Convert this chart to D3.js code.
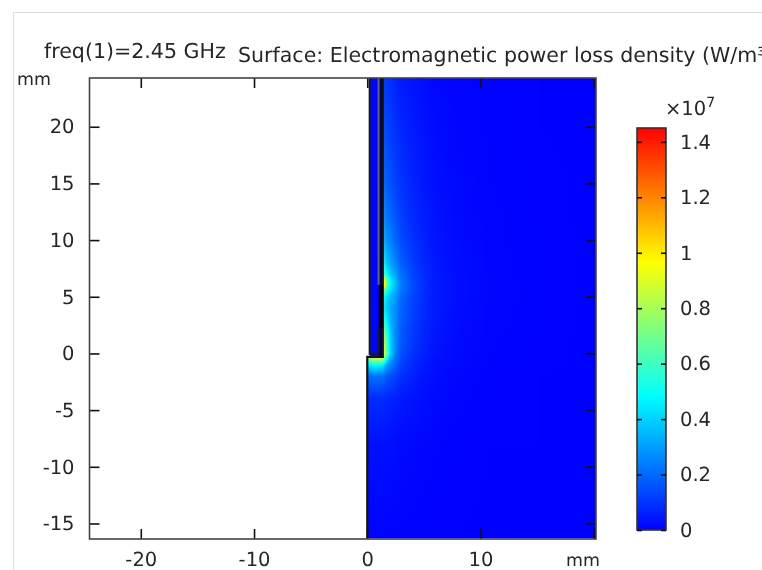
<!DOCTYPE html>
<html><head><meta charset="utf-8">
<script src="https://cdn.jsdelivr.net/npm/d3@7"></script>
<style>
html,body{margin:0;padding:0;background:#fff;overflow:hidden}
svg{display:block;filter:blur(0.5px)}
text{font-family:"DejaVu Sans",sans-serif;fill:#262626;text-rendering:geometricPrecision}
</style></head><body><div id="c"></div>
<script>
const titleLeft = "freq(1)=2.45 GHz";
const titleRight = "Surface: Electromagnetic power loss density (W/m³)";
const xTicks = [-20,-10,0,10,20];
const yTicks = [-15,-10,-5,0,5,10,15,20];
const barTicks = [0,0.2,0.4,0.6,0.8,1,1.2,1.4];
const barMax = 1.45;
const colorStops = ["#0000ff","#00ffff","#ffff00","#ff0000"];
// field sample positions (mm) and power loss density (×10^7 W/m³)
const gridX = [0,0.7,1.37,1.7,2,2.5,3,4,5,6,8,11,15,20.2];
const gridY = [24.3,20,15,12,10,8,7,6.2,5.5,5,4,3,2,1,0,-0.31,-1,-2,-4,-8,-16.3];
const gridV = [
 [.11,.11,.11,.10,.09,.065,.05,.035,.024,.014,.007,.003,.001,0],
 [.15,.15,.15,.13,.115,.09,.07,.05,.033,.018,.009,.004,.001,0],
 [.21,.21,.21,.18,.15,.125,.095,.065,.044,.027,.013,.005,.002,0],
 [.29,.29,.29,.23,.20,.16,.12,.08,.053,.033,.015,.006,.002,0],
 [.36,.36,.36,.28,.25,.19,.14,.095,.062,.038,.019,.006,.003,0],
 [.50,.50,.50,.38,.32,.25,.18,.115,.072,.043,.021,.007,.003,0],
 [.70,.70,.70,.50,.40,.30,.21,.13,.08,.048,.023,.007,.003,0],
 [1.2,1.2,1.2,.78,.50,.36,.23,.14,.085,.05,.024,.008,.003,0],
 [.75,.75,.75,.55,.42,.33,.22,.14,.085,.05,.024,.008,.003,0],
 [.52,.52,.52,.43,.37,.29,.20,.13,.08,.05,.024,.008,.003,0],
 [.46,.46,.46,.39,.33,.26,.19,.125,.078,.048,.022,.007,.003,0],
 [.56,.56,.56,.46,.35,.26,.18,.12,.075,.045,.021,.007,.003,0],
 [.76,.76,.76,.58,.39,.26,.17,.11,.07,.042,.02,.006,.003,0],
 [.92,.92,.92,.66,.42,.26,.165,.105,.063,.038,.018,.005,.002,0],
 [.98,.98,.98,.70,.42,.25,.155,.095,.057,.035,.016,.005,.002,0],
 [.80,.95,.92,.58,.36,.23,.14,.088,.054,.032,.015,.005,.002,0],
 [.42,.50,.46,.32,.26,.19,.12,.077,.048,.028,.013,.004,.002,0],
 [.20,.22,.21,.17,.15,.125,.09,.06,.036,.022,.01,.003,.001,0],
 [.08,.08,.08,.07,.063,.058,.045,.035,.024,.015,.007,.002,.001,0],
 [.03,.03,.03,.027,.027,.022,.017,.013,.009,.006,.003,.001,.001,0],
 [.004,.004,.004,.004,.003,.003,.003,.002,.002,.001,.001,0,0,0]
];
// device geometry (mm)
const fieldOutline = [[0,-16.3],[0,-0.31],[0.22,-0.31],[0.22,24.3],[20.2,24.3],[20.2,-16.3]];
const stripOutline = [[0.22,24.3],[0.22,-0.31],[1.37,-0.31],[1.37,24.3]];
const stripValue = 0.01;
const outerEdge = [[0,-16.3],[0,-0.31],[1.37,-0.31],[1.37,24.3]];
const innerEdge = [[0.22,24.3],[0.22,-0.05],[1.0,-0.05],[1.0,2.25]];
const innerEdgeTop = [[1.0,6.05],[1.0,24.3]];
const gapEdge = [[1.24,2.25],[1.24,6.05]];

const W=762,H=570;
const x=d3.scaleLinear().domain([-24.53,20.2]).range([89.5,596]);
const y=d3.scaleLinear().domain([24.3,-16.37]).range([78,539]);
const color=d3.scaleLinear().domain(colorStops.map((c,i)=>i/(colorStops.length-1)*barMax)).range(colorStops).clamp(true);
const barY=d3.scaleLinear().domain([0,barMax]).range([530,128]);

const svg=d3.select("#c").append("svg").attr("width",W).attr("height",H);
svg.append("path").attr("d",d3.line()([[13.5,570],[13.5,12.5],[762,12.5]])).attr("fill","none").attr("stroke","#dcdcdc").attr("stroke-width",1);

svg.append("text").attr("x",44).attr("y",58).attr("font-size",20.55).text(titleLeft);
svg.append("text").attr("x",238).attr("y",62).attr("font-size",20.55).text(titleRight);
svg.append("text").attr("x",17).attr("y",85).attr("font-size",17.4).text("mm");
svg.append("text").attr("x",566).attr("y",566).attr("font-size",17.4).text("mm");

// field image
const x0=Math.round(x(0)),x1=Math.round(x(20.2)),y0=78,y1=539;
const cv=document.createElement("canvas");cv.width=x1-x0;cv.height=y1-y0;
const ctx=cv.getContext("2d");const img=ctx.createImageData(cv.width,cv.height);
const ascY=gridY.map(d=>-d);
function sample(mx,my){
  let i=Math.min(Math.max(d3.bisectRight(gridX,mx)-1,0),gridX.length-2);
  let j=Math.min(Math.max(d3.bisectRight(ascY,-my)-1,0),gridY.length-2);
  const t=Math.max(0,Math.min(1,(mx-gridX[i])/(gridX[i+1]-gridX[i])));
  const u=Math.max(0,Math.min(1,(my-gridY[j])/(gridY[j+1]-gridY[j])));
  return (gridV[j][i]*(1-t)+gridV[j][i+1]*t)*(1-u)+(gridV[j+1][i]*(1-t)+gridV[j+1][i+1]*t)*u;
}
for(let py=0;py<cv.height;py++)for(let px=0;px<cv.width;px++){
  const c=d3.rgb(color(sample(x.invert(px+x0+.5),y.invert(py+y0+.5))));
  const k=4*(py*cv.width+px);img.data[k]=c.r;img.data[k+1]=c.g;img.data[k+2]=c.b;img.data[k+3]=255;
}
ctx.putImageData(img,0,0);
const poly=d3.line().x(d=>x(d[0])).y(d=>y(d[1]));
svg.append("clipPath").attr("id","fc").append("path").attr("d",poly(fieldOutline)+"Z");
svg.append("image").attr("href",cv.toDataURL()).attr("x",x0).attr("y",y0).attr("width",cv.width).attr("height",cv.height).attr("clip-path","url(#fc)");
svg.append("path").attr("d",poly(stripOutline)+"Z").attr("fill",color(stripValue));
svg.append("rect").attr("x",x(1.0)).attr("y",y(24.3)).attr("width",x(1.37)-x(1.0)).attr("height",y(-0.31)-y(24.3)).attr("fill","#000060");

const edge=(pts,w,c)=>svg.append("path").attr("d",poly(pts)).attr("fill","none").attr("stroke",c).attr("stroke-width",w);
edge(outerEdge,2.2,"#111");
edge(innerEdge,2.2,"#1a1a1a");
edge(innerEdgeTop,2,"#666");
edge(gapEdge,3,"#000");

// axes
function style(g){g.select(".domain").remove();g.selectAll("line").attr("stroke","#111").attr("stroke-width",1.6);g.selectAll("text").attr("font-size",19.5).attr("fill","#262626");}
const fmt=d=>String(d);
svg.append("g").attr("transform",`translate(0,539)`).call(d3.axisBottom(x).tickValues(xTicks).tickSizeInner(-10).tickSizeOuter(0).tickPadding(13).tickFormat(d=>d===20?"":fmt(d))).call(style);
svg.append("g").attr("transform",`translate(0,78)`).call(d3.axisTop(x).tickValues(xTicks).tickSizeInner(-10).tickSizeOuter(0).tickFormat("")).call(style);
svg.append("g").attr("transform",`translate(89.5,0)`).call(d3.axisLeft(y).tickValues(yTicks).tickSizeInner(-10).tickSizeOuter(0).tickPadding(15).tickFormat(fmt)).call(style);
svg.append("g").attr("transform",`translate(596,0)`).call(d3.axisRight(y).tickValues(yTicks).tickSizeInner(-10).tickSizeOuter(0).tickFormat("")).call(style);
svg.append("rect").attr("x",89.5).attr("y",78).attr("width",506.5).attr("height",461).attr("fill","none").attr("stroke","#444").attr("stroke-width",1.6);

// colour bar
const defs=svg.append("defs");
const grad=defs.append("linearGradient").attr("id","bar").attr("x1",0).attr("x2",0).attr("y1",1).attr("y2",0);
colorStops.forEach((c,i)=>grad.append("stop").attr("offset",i/(colorStops.length-1)).attr("stop-color",c));
svg.append("rect").attr("x",637).attr("y",128).attr("width",29).attr("height",402).attr("fill","url(#bar)").attr("stroke","#333").attr("stroke-width",1.6);
svg.append("g").attr("transform","translate(666,0)").call(d3.axisRight(barY).tickValues(barTicks).tickSizeInner(-5).tickSizeOuter(0).tickPadding(14).tickFormat(d=>String(d))).call(style);
svg.append("g").attr("transform","translate(637,0)").call(d3.axisLeft(barY).tickValues(barTicks).tickSizeInner(-5).tickSizeOuter(0).tickFormat("")).call(style);
const mult=svg.append("text").attr("x",665).attr("y",115).attr("font-size",19.5);
mult.append("tspan").text("×10");
mult.append("tspan").attr("dy",-8).attr("font-size",14).text("7");
</script></body></html>
